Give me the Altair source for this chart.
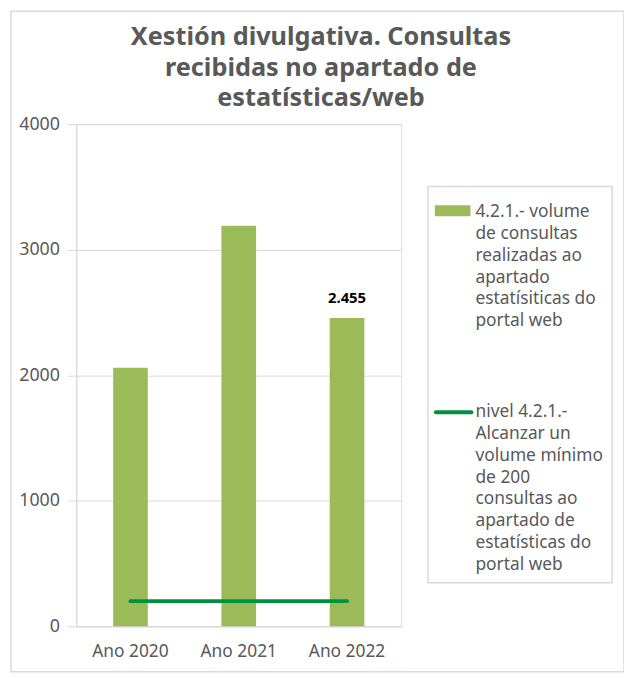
import altair as alt
import pandas as pd

years = ["Ano 2020", "Ano 2021", "Ano 2022"]
consultas = [2060, 3190, 2455]
nivel = [200, 200, 200]
value_labels = ["", "", "2.455"]
title_lines = ["Xestión divulgativa. Consultas", "recibidas no apartado de", "estatísticas/web"]
legend_bar = ["4.2.1.- volume", "de consultas", "realizadas ao", "apartado", "estatísiticas do", "portal web"]
legend_line = ["nivel 4.2.1.-", "Alcanzar un", "volume mínimo", "de 200", "consultas ao", "apartado de", "estatísticas do", "portal web"]

FONT = "Noto Sans"
GRAY = "#595959"
BAR = "#9BBB59"
LINE = "#00913F"

df = pd.DataFrame({"year": years, "consultas": consultas, "nivel": nivel, "label": value_labels})
one = pd.DataFrame({"a": [0]})

xs = alt.X("year:N", sort=years, title=None,
           scale=alt.Scale(paddingInner=0.68, paddingOuter=0.34),
           axis=alt.Axis(labelAngle=0, labelFontSize=17.5, labelColor=GRAY, labelFont=FONT,
                         labelPadding=17, ticks=False, domainColor="#D9D9D9"))
ys = alt.Y("consultas:Q", title=None,
           scale=alt.Scale(domain=[0, 4000]),
           axis=alt.Axis(values=[0, 1000, 2000, 3000, 4000], format="d", labelFontSize=18,
                         labelColor=GRAY, labelFont=FONT, labelPadding=8, tickSize=9,
                         tickColor="#D9D9D9", domainColor="#D9D9D9", gridColor="#D9D9D9"))

border = alt.Chart(one).mark_rect(fill=None, stroke="#D9D9D9", strokeWidth=1.5).encode(
    x=alt.value(-66), x2=alt.value(553), y=alt.value(-114), y2=alt.value(553))

bars = alt.Chart(df).mark_bar(color=BAR).encode(x=xs, y=ys)

line = alt.Chart(df).mark_line(color=LINE, strokeWidth=4, strokeCap="round").encode(
    x=alt.X("year:N", sort=years, bandPosition=0.5), y=alt.Y("nivel:Q"))

labels = alt.Chart(df).mark_text(font=FONT, fontSize=15, fontWeight="bold", color="black", dy=-20).encode(
    x=alt.X("year:N", sort=years, bandPosition=0.5), y=alt.Y("consultas:Q"), text="label:N")

title = alt.Chart(one).mark_text(font=FONT, fontSize=25.5, fontWeight="bold", color=GRAY,
                                 align="center", baseline="top", lineHeight=31, lineBreak="\n").encode(
    x=alt.value(247), y=alt.value(-100), text=alt.value("\n".join(title_lines)))

leg_box = alt.Chart(one).mark_rect(fill="white", stroke="#D9D9D9", strokeWidth=1.5).encode(
    x=alt.value(355), x2=alt.value(541), y=alt.value(63), y2=alt.value(463))
leg_rect = alt.Chart(one).mark_rect(color=BAR).encode(
    x=alt.value(362), x2=alt.value(398), y=alt.value(82), y2=alt.value(93))
leg_line = alt.Chart(one).mark_rule(color=LINE, strokeWidth=4, strokeCap="round").encode(
    x=alt.value(363), x2=alt.value(399), y=alt.value(291))
leg_t1 = alt.Chart(one).mark_text(font=FONT, fontSize=17.5, color=GRAY, align="left", baseline="middle",
                                  lineHeight=22, lineBreak="\n").encode(
    x=alt.value(403), y=alt.value(89), text=alt.value("\n".join(legend_bar)))
leg_t2 = alt.Chart(one).mark_text(font=FONT, fontSize=17.5, color=GRAY, align="left", baseline="middle",
                                  lineHeight=22, lineBreak="\n").encode(
    x=alt.value(403), y=alt.value(291), text=alt.value("\n".join(legend_line)))

chart = alt.layer(border, bars, line, labels, title, leg_box, leg_rect, leg_line, leg_t1, leg_t2).properties(
    width=328, height=507,
    autosize=alt.AutoSizeParams(type="none"),
    padding={"left": 69, "top": 114, "right": 225, "bottom": 47},
).configure_view(stroke=None).configure(background="white")

chart.save("out.html", embed_options={"renderer": "svg", "actions": False})
